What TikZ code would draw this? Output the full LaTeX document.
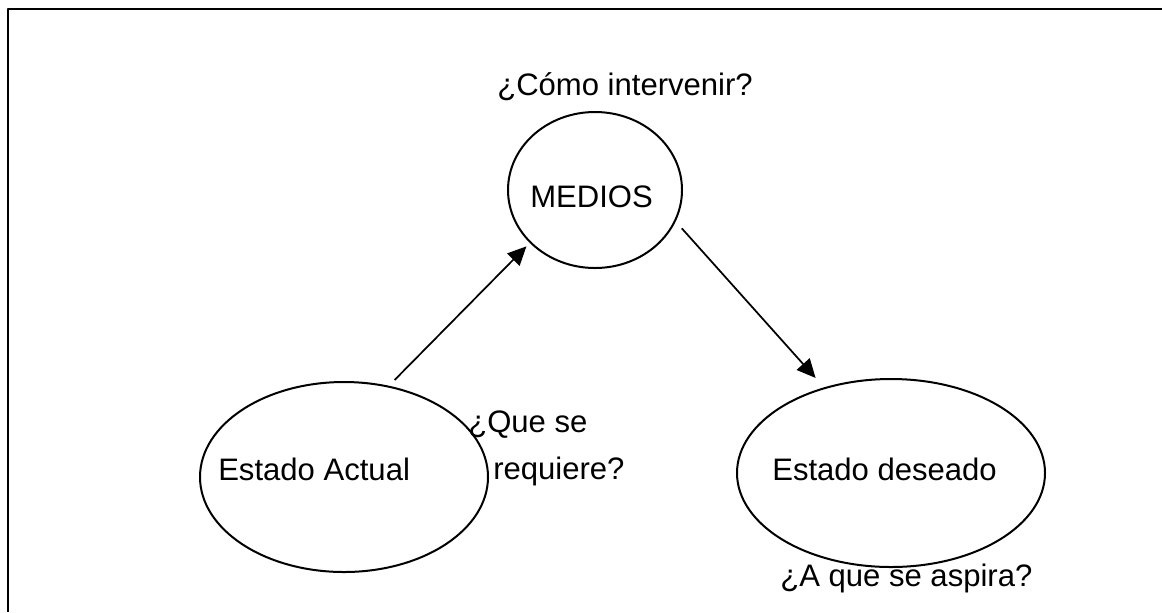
\documentclass[tikz,border=0pt]{standalone}
\usepackage{fontspec}
\setmainfont{Liberation Sans}
\usetikzlibrary{arrows.meta,shapes.geometric}
\begin{document}
\begin{tikzpicture}[x=0.75pt, y=-0.75pt, line join=round, >={Triangle[length=14pt,width=13pt]},
	oval/.style={draw, ellipse, line width=1.5pt, inner sep=0pt, outer sep=0pt},
	txt/.style={anchor=base west, inner sep=0pt, font=\fontsize{23.3}{28}\selectfont}]
			\useasboundingbox (0,0) rectangle (1162,612);
			\draw[line width=1.5pt] (1162,9) -- (8,9) -- (8,612);
			\node[oval, minimum width=130.5pt, minimum height=117pt] (medios) at (595,190) {};
			\node[oval, minimum width=216pt, minimum height=142.5pt] (actual) at (344,477) {};
			\node[oval, minimum width=231pt, minimum height=141pt] (deseado) at (891,473) {};
			\node[txt] (mediostxt) at (530,207) {MEDIOS};
			\node[txt] (actualtxt) at (218,480) {Estado Actual};
			\node[txt] (deseadotxt) at (772,480) {Estado deseado};
			\node[txt] (como) at (497,95) {¿Cómo intervenir?};
			\node[txt] (que) at (468,432) {¿Que se};
			\node[txt] (requiere) at (493,479) {requiere?};
			\node[txt] (aspira) at (780,586) {¿A que se aspira?};
			\draw[->, line width=1.3pt, shorten <=6.9pt, shorten >=4.3pt] (actual.64.3) -- (medios.219.6);
			\draw[->, line width=1.3pt, shorten <=7.7pt, shorten >=10.3pt] (medios.339.3) -- (deseado.128.3);
	\end{tikzpicture}
\end{document}
